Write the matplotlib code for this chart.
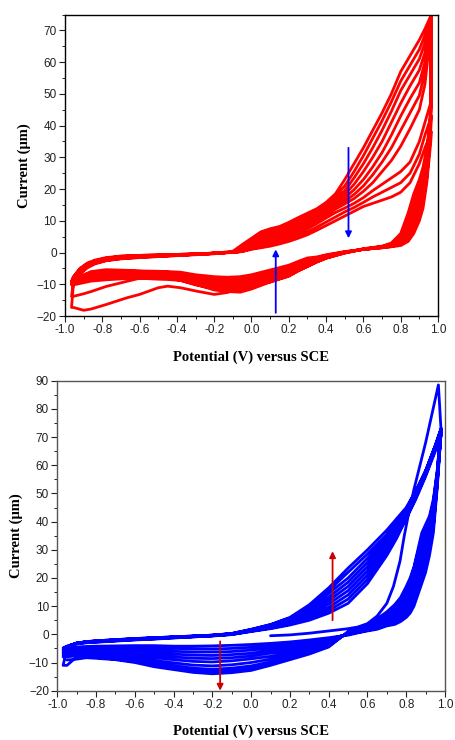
import matplotlib
matplotlib.use('Agg')
import matplotlib.pyplot as plt
from matplotlib.ticker import MultipleLocator, FixedLocator

# ---------------- TOP PANEL (red) ----------------
XA_TOP = [-0.965, -0.955, -0.92, -0.88, -0.84, -0.78, -0.7, -0.6, -0.5, -0.4, -0.3, -0.2, -0.1,
          -0.05, 0.0, 0.05, 0.1, 0.15, 0.2, 0.25, 0.3, 0.35, 0.4, 0.45, 0.5, 0.55, 0.6, 0.65,
          0.7, 0.75, 0.8, 0.85, 0.9, 0.93, 0.965]
TOP_ANODIC = [
    [-9.0, -8.5, -5.5, -3.8, -2.8, -1.8, -1.2, -0.9, -0.7, -0.6, -0.4, -0.2, 0.4, 2.5, 4.5, 6.5, 7.5, 8.2, 9.5, 11.0, 12.4, 13.8, 15.8, 18.5, 23.0, 28.0, 33.0, 38.5, 44.0, 50.0, 57.0, 62.0, 67.0, 70.5, 75.0],
    [-17.3, -10.0, -6.8, -4.8, -3.6, -2.6, -2.0, -1.6, -1.3, -1.0, -0.7, -0.4, 0.2, 1.6, 3.5, 5.5, 7.0, 7.8, 9.0, 10.5, 12.0, 13.5, 15.3, 17.8, 21.0, 25.5, 30.5, 36.0, 41.5, 47.5, 54.0, 59.0, 64.0, 68.5, 75.0],
    [-13.8, -9.5, -6.5, -4.6, -3.4, -2.5, -1.9, -1.5, -1.2, -0.9, -0.6, -0.3, 0.2, 1.1, 2.8, 4.5, 6.2, 7.3, 8.5, 10.0, 11.5, 13.0, 14.8, 17.0, 19.5, 23.5, 28.0, 33.0, 38.5, 44.5, 51.0, 56.0, 61.0, 66.0, 74.5],
    [-10.2, -8.8, -6.2, -4.4, -3.3, -2.4, -1.8, -1.4, -1.1, -0.9, -0.6, -0.3, 0.1, 0.8, 2.3, 3.6, 5.2, 6.6, 7.8, 9.3, 10.8, 12.4, 14.2, 16.3, 18.3, 21.5, 25.5, 30.0, 35.0, 41.0, 47.0, 52.5, 57.5, 63.0, 74.0],
    [-9.8, -8.6, -6.0, -4.2, -3.2, -2.3, -1.7, -1.3, -1.1, -0.8, -0.6, -0.3, 0.1, 0.6, 2.0, 3.0, 4.4, 5.8, 7.0, 8.5, 10.0, 11.7, 13.5, 15.5, 17.2, 19.8, 23.0, 27.0, 31.5, 37.0, 43.0, 48.5, 53.5, 60.0, 73.5],
    [-9.6, -8.4, -5.8, -4.0, -3.0, -2.1, -1.6, -1.2, -1.0, -0.8, -0.5, -0.2, 0.1, 0.5, 1.8, 2.6, 3.7, 5.0, 6.2, 7.6, 9.2, 10.9, 12.7, 14.6, 16.2, 18.3, 21.0, 24.5, 28.5, 33.0, 38.5, 44.0, 49.5, 57.0, 73.0],
    [-9.4, -8.2, -5.6, -3.9, -2.9, -2.0, -1.5, -1.2, -1.0, -0.8, -0.5, -0.2, 0.1, 0.45, 1.6, 2.3, 3.2, 4.3, 5.4, 6.8, 8.3, 10.0, 11.8, 13.7, 15.3, 17.0, 19.3, 22.0, 25.5, 29.0, 33.5, 39.0, 45.0, 53.0, 72.0],
    [-9.3, -8.0, -5.4, -3.7, -2.7, -1.9, -1.4, -1.1, -0.9, -0.7, -0.5, -0.2, 0.1, 0.4, 1.4, 2.0, 2.8, 3.7, 4.7, 6.0, 7.5, 9.1, 10.9, 12.6, 14.0, 15.5, 17.3, 19.5, 21.5, 23.5, 25.5, 28.5, 35.0, 41.0, 48.0],
    [-9.2, -7.8, -5.2, -3.5, -2.6, -1.8, -1.3, -1.0, -0.9, -0.7, -0.5, -0.2, 0.0, 0.35, 1.2, 1.7, 2.4, 3.2, 4.1, 5.2, 6.5, 8.0, 9.6, 11.2, 12.8, 14.2, 15.8, 17.5, 19.0, 20.5, 22.0, 25.0, 31.0, 37.0, 43.0],
    [-9.1, -7.6, -5.0, -3.3, -2.4, -1.6, -1.1, -0.9, -0.8, -0.6, -0.4, -0.2, 0.0, 0.3, 1.0, 1.5, 2.0, 2.7, 3.5, 4.5, 5.6, 7.0, 8.5, 10.0, 11.5, 13.0, 14.5, 15.5, 16.5, 17.5, 19.0, 22.0, 28.0, 33.0, 38.0],
]
XC_TOP = [0.965, 0.96, 0.95, 0.94, 0.92, 0.9, 0.87, 0.84, 0.8, 0.75, 0.7, 0.6, 0.5, 0.4, 0.35, 0.3,
          0.25, 0.2, 0.1, 0.0, -0.06, -0.13, -0.2, -0.3, -0.38, -0.45, -0.5, -0.6, -0.67, -0.78,
          -0.86, -0.9, -0.955]
TOP_CATHODIC = [
    [75, 45, 38, 33, 27, 23, 18.5, 12.5, 6.0, 3.0, 2.0, 1.2, 0.0, -1.8, -3.0, -4.4, -5.8, -7.3, -9.3, -10.5, -11.1, -12.6, -13.2, -12.1, -11.1, -10.6, -11.1, -13.2, -14.3, -16.4, -17.8, -18.2, -17.3],
    [75, 43, 37, 31, 25, 21, 16.5, 11, 5.3, 2.7, 1.9, 1.1, -0.1, -1.7, -2.8, -4.1, -5.5, -6.9, -8.8, -10.2, -11.0, -11.5, -11.4, -10.2, -8.8, -8.0, -7.8, -8.1, -9.1, -10.7, -12.3, -13.0, -13.8],
    [74.5, 42, 36, 30, 24, 19.5, 15, 10, 4.8, 2.5, 1.8, 1.1, -0.2, -1.8, -3.0, -4.4, -5.8, -7.5, -9.3, -11.5, -12.5, -12.3, -11.8, -10.0, -8.8, -8.5, -8.4, -8.1, -8.2, -8.6, -9.0, -9.5, -10.2],
    [74, 41, 35, 29, 22.5, 18, 13.5, 9, 4.4, 2.4, 1.8, 1.1, -0.1, -1.6, -2.7, -4.0, -5.4, -7.0, -8.8, -10.8, -11.8, -11.6, -11.2, -9.6, -8.5, -8.1, -8.0, -7.8, -7.8, -8.1, -8.6, -9.2, -9.8],
    [73.5, 40, 34, 28, 21, 16.5, 12, 8, 4.0, 2.3, 1.7, 1.0, 0.0, -1.5, -2.5, -3.6, -4.9, -6.5, -8.2, -10.1, -11.1, -11.0, -10.6, -9.2, -8.1, -7.7, -7.6, -7.4, -7.4, -7.6, -8.2, -8.9, -9.6],
    [73, 39, 33, 27, 20, 15, 11, 7.2, 3.6, 2.2, 1.7, 1.0, 0.0, -1.3, -2.2, -3.2, -4.5, -6.0, -7.6, -9.4, -10.3, -10.3, -10.0, -8.8, -7.7, -7.3, -7.2, -7.0, -7.0, -7.1, -7.7, -8.5, -9.4],
    [72, 38, 32, 26, 19, 14, 10, 6.4, 3.3, 2.1, 1.6, 1.0, 0.1, -1.2, -2.0, -2.8, -4.0, -5.4, -7.0, -8.7, -9.5, -9.6, -9.4, -8.4, -7.3, -6.9, -6.8, -6.6, -6.5, -6.6, -7.2, -8.0, -9.3],
    [48, 40, 31, 25, 17.5, 13, 9, 5.6, 3.0, 2.0, 1.6, 1.0, 0.1, -1.0, -1.8, -2.5, -3.6, -4.9, -6.5, -8.1, -8.8, -8.9, -8.7, -8.0, -6.9, -6.5, -6.4, -6.2, -6.1, -6.1, -6.8, -7.7, -9.2],
    [43, 37, 30, 23.5, 16, 11.5, 7.5, 4.5, 2.6, 1.9, 1.5, 1.0, 0.2, -0.9, -1.6, -2.1, -3.2, -4.4, -6.0, -7.5, -8.2, -8.3, -8.1, -7.5, -6.5, -6.2, -6.1, -5.9, -5.8, -5.7, -6.4, -7.3, -9.1],
    [38, 34, 28, 22, 14, 10, 6, 3.5, 2.2, 1.8, 1.5, 1.0, 0.3, -0.7, -1.4, -1.7, -2.8, -4.0, -5.5, -7.0, -7.6, -7.8, -7.6, -7.0, -6.2, -6.0, -5.9, -5.8, -5.6, -5.4, -6.0, -7.0, -9.0],
]

# ---------------- BOTTOM PANEL (blue) ----------------
XA_BOT_FIRST = [0.1, 0.2, 0.3, 0.4, 0.5, 0.55, 0.6, 0.65, 0.7, 0.734, 0.768, 0.79, 0.81, 0.84, 0.9, 0.966]
BOT_ANODIC_FIRST = [-0.5, -0.2, 0.4, 1.2, 2.0, 2.6, 3.8, 6.5, 11.0, 17.0, 26.0, 35.0, 42.0, 51.5, 68.0, 88.5]
XA_BOT = [-0.97, -0.95, -0.93, -0.9, -0.85, -0.8, -0.7, -0.6, -0.5, -0.4, -0.3, -0.2, -0.1, 0.0,
          0.1, 0.2, 0.3, 0.4, 0.5, 0.6, 0.7, 0.75, 0.8, 0.85, 0.9, 0.95, 0.98]
BOT_ANODIC = [
    [-4.8, -4.2, -3.8, -3.4, -3.0, -2.8, -2.4, -2.0, -1.7, -1.3, -0.9, -0.6, -0.1, 1.0, 2.0, 3.3, 5.0, 7.5, 11.0, 18.0, 28.0, 34.0, 41.0, 48.0, 56.0, 65.0, 71.0],
    [-5.3, -4.3, -3.8, -3.3, -2.9, -2.7, -2.3, -1.9, -1.6, -1.2, -0.9, -0.5, 0.0, 1.1, 2.2, 3.6, 5.6, 8.5, 12.5, 19.5, 29.0, 35.0, 41.5, 48.5, 56.5, 65.5, 71.5],
    [-5.8, -4.4, -3.8, -3.2, -2.8, -2.6, -2.2, -1.8, -1.5, -1.1, -0.8, -0.5, 0.0, 1.2, 2.4, 4.0, 6.3, 9.6, 14.0, 21.0, 30.5, 36.0, 42.0, 49.0, 57.0, 66.0, 72.0],
    [-6.2, -4.5, -3.8, -3.2, -2.8, -2.5, -2.1, -1.7, -1.4, -1.1, -0.8, -0.4, 0.1, 1.3, 2.6, 4.4, 7.0, 10.8, 15.5, 22.5, 31.5, 37.0, 42.5, 49.5, 57.0, 66.0, 72.0],
    [-6.6, -4.6, -3.8, -3.1, -2.7, -2.5, -2.1, -1.7, -1.4, -1.0, -0.7, -0.4, 0.1, 1.4, 2.8, 4.8, 7.7, 12.0, 17.0, 24.0, 32.5, 38.0, 43.0, 50.0, 57.5, 66.5, 72.5],
    [-7.0, -4.7, -3.8, -3.1, -2.7, -2.4, -2.0, -1.6, -1.3, -1.0, -0.7, -0.4, 0.2, 1.5, 3.0, 5.2, 8.4, 13.2, 18.5, 25.5, 33.5, 39.0, 43.5, 50.0, 57.5, 66.5, 72.5],
    [-7.5, -4.8, -3.9, -3.1, -2.7, -2.4, -2.0, -1.6, -1.3, -1.0, -0.7, -0.3, 0.2, 1.6, 3.2, 5.5, 9.2, 14.5, 20.0, 27.0, 34.5, 39.5, 44.0, 50.5, 58.0, 67.0, 73.0],
    [-8.0, -4.9, -3.9, -3.1, -2.6, -2.3, -1.9, -1.5, -1.2, -0.9, -0.6, -0.3, 0.3, 1.7, 3.4, 5.8, 9.9, 15.5, 22.0, 28.5, 35.5, 40.5, 44.5, 51.0, 58.0, 67.0, 73.0],
    [-11.0, -5.0, -4.0, -3.1, -2.6, -2.3, -1.9, -1.5, -1.2, -0.9, -0.6, -0.3, 0.3, 1.8, 3.5, 6.0, 10.5, 16.5, 23.5, 30.0, 37.0, 41.0, 45.0, 51.0, 58.0, 67.0, 73.0],
]
XC_BOT = [0.98, 0.97, 0.96, 0.94, 0.92, 0.9, 0.88, 0.86, 0.84, 0.82, 0.8, 0.77, 0.74, 0.7, 0.65,
          0.6, 0.55, 0.5, 0.4, 0.3, 0.2, 0.1, 0.0, -0.1, -0.2, -0.3, -0.4, -0.5, -0.6, -0.7,
          -0.8, -0.85, -0.9, -0.95]
BOT_CATHODIC = [
    [72, 62, 52, 36, 28, 22, 18, 14, 10, 7.5, 6.0, 4.5, 3.5, 3.0, 1.8, 1.2, 0.5, -0.3, -1.2, -2.0, -2.7, -3.2, -3.6, -3.9, -4.1, -4.2, -4.2, -4.0, -4.0, -4.1, -4.2, -4.3, -4.5, -4.8],
    [72, 63, 53, 38, 30, 24, 20, 16, 11.5, 8.5, 6.8, 5.0, 4.0, 3.3, 2.1, 1.4, 0.7, 0.0, -1.6, -2.6, -3.4, -4.0, -4.6, -5.0, -5.2, -5.2, -5.0, -4.8, -4.7, -4.7, -4.8, -4.9, -5.0, -5.3],
    [72, 63, 54, 40, 32, 26, 22, 18, 13, 9.5, 7.6, 5.8, 4.6, 3.7, 2.5, 1.7, 0.9, 0.2, -2.0, -3.2, -4.1, -4.8, -5.6, -6.1, -6.3, -6.3, -6.0, -5.6, -5.3, -5.2, -5.3, -5.4, -5.5, -5.8],
    [72, 63, 55, 41, 34, 28, 24, 20, 15, 11, 8.8, 6.7, 5.3, 4.2, 2.9, 2.0, 1.1, 0.3, -2.4, -3.8, -4.9, -5.7, -6.7, -7.2, -7.5, -7.4, -7.0, -6.5, -6.0, -5.8, -5.8, -5.9, -6.0, -6.2],
    [72, 64, 55, 42, 35, 30, 26, 22, 17, 12.5, 10, 7.6, 6.0, 4.8, 3.3, 2.3, 1.3, 0.4, -2.8, -4.4, -5.7, -6.7, -7.7, -8.3, -8.6, -8.5, -8.0, -7.4, -6.8, -6.4, -6.3, -6.3, -6.4, -6.6],
    [72, 64, 56, 44, 37, 32, 28, 24, 19, 14, 11.5, 8.6, 6.8, 5.4, 3.7, 2.6, 1.5, 0.5, -3.2, -5.0, -6.5, -7.8, -8.7, -9.4, -9.8, -9.6, -9.0, -8.3, -7.6, -7.1, -6.8, -6.7, -6.8, -7.0],
    [72, 65, 57, 45, 39, 34, 31, 26, 21, 16, 13, 9.8, 7.8, 6.1, 4.2, 2.9, 1.7, 0.6, -3.6, -5.6, -7.3, -8.8, -10.0, -10.8, -11.2, -10.9, -10.1, -9.3, -8.4, -7.8, -7.4, -7.2, -7.3, -7.5],
    [72, 65, 57, 46, 40, 36, 33, 28, 22.5, 17.5, 14.5, 11, 8.8, 6.8, 4.7, 3.2, 1.8, 0.7, -3.9, -6.2, -8.0, -9.8, -11.2, -12.0, -12.4, -12.0, -11.1, -10.2, -9.1, -8.4, -7.9, -7.6, -7.6, -8.0],
    [72, 66, 58, 47, 41, 37.5, 34.5, 29, 23.5, 19, 16, 12, 9.6, 7.4, 5.1, 3.4, 1.9, 0.8, -4.2, -6.6, -8.5, -10.4, -12.0, -12.9, -13.3, -12.9, -12.0, -11.0, -9.7, -8.8, -8.2, -7.9, -8.0, -11.0],
    [72, 66, 58, 48, 42, 39, 36, 30, 24, 20, 17, 13, 10.5, 8.0, 5.5, 3.5, 2.0, 1.0, -4.5, -7.0, -9.0, -11.0, -12.8, -13.6, -14.0, -13.5, -12.5, -11.5, -10.0, -9.0, -8.5, -8.3, -8.8, -9.1],
]

# ---------------- Arrows (data coords) ----------------
TOP_ARROWS = [((0.52, 33), (0.52, 4.5)), ((0.13, -19), (0.13, 1.0))]
BOT_ARROWS = [((0.42, 5), (0.42, 29.5)), ((-0.16, -2.5), (-0.16, -20))]

X_TICKS = [-1.0, -0.8, -0.6, -0.4, -0.2, 0.0, 0.2, 0.4, 0.6, 0.8, 1.0]
X_TICKLABELS = ['-1.0', '-0.8', '-0.6', '-0.4', '-0.2', '0.0', '0.2', '0.4', '0.6', '0.8', '1.0']


def build_path(segments):
    xs, ys = [], []
    for sx, sy in segments:
        assert len(sx) == len(sy), (len(sx), len(sy))
        xs.extend(sx)
        ys.extend(sy)
    return xs, ys


top_segments = []
for a, c in zip(TOP_ANODIC, TOP_CATHODIC):
    top_segments.append((XA_TOP, a))
    top_segments.append((XC_TOP, c))

bot_segments = [(XA_BOT_FIRST, BOT_ANODIC_FIRST), (XC_BOT, BOT_CATHODIC[0])]
for a, c in zip(BOT_ANODIC, BOT_CATHODIC[1:]):
    bot_segments.append((XA_BOT, a))
    bot_segments.append((XC_BOT, c))

fig = plt.figure(figsize=(4.55, 7.4), dpi=100)
ax1 = fig.add_axes([65 / 455, 1 - 316 / 740, 373 / 455, 301.5 / 740])
ax2 = fig.add_axes([57.3 / 455, 1 - 690.7 / 740, 387.7 / 455, 310 / 740])

tick_font = dict(family='Liberation Sans', size=8.5)
label_font = dict(family='Liberation Serif', size=10.5, weight='bold')


def style(ax, ylo, yhi, ymajor, spine_color):
    ax.set_xlim(-1.0, 1.0)
    ax.set_ylim(ylo, yhi)
    ax.xaxis.set_major_locator(FixedLocator(X_TICKS))
    ax.set_xticklabels(X_TICKLABELS, **tick_font)
    ax.xaxis.set_minor_locator(MultipleLocator(0.1))
    ax.yaxis.set_major_locator(MultipleLocator(ymajor))
    ax.yaxis.set_minor_locator(MultipleLocator(ymajor / 2))
    for lab in ax.get_yticklabels():
        lab.set_fontfamily('Liberation Sans')
        lab.set_fontsize(8.5)
    ax.tick_params(which='major', direction='out', length=4, width=0.8, colors='#222222',
                   top=False, right=False, pad=2)
    ax.tick_params(which='minor', direction='out', length=2.5, width=0.7, colors='#222222',
                   top=False, right=False)
    for s in ax.spines.values():
        s.set_color(spine_color)
        s.set_linewidth(1.0)
    ax.set_xlabel('Potential (V) versus SCE', labelpad=10, **label_font)
    ax.set_ylabel('Current (μm)', labelpad=4, **label_font)


x1, y1 = build_path(top_segments)
ax1.plot(x1, y1, color='#ff0000', lw=2.0, solid_joinstyle='round', solid_capstyle='round')
style(ax1, -20, 75, 10, '#000000')
for (xs, ys), (xe, ye) in TOP_ARROWS:
    ax1.annotate('', xy=(xe, ye), xytext=(xs, ys),
                 arrowprops=dict(arrowstyle='-|>', color='#0000ff', lw=1.3,
                                 mutation_scale=9, shrinkA=0, shrinkB=0))

x2, y2 = build_path(bot_segments)
ax2.plot(x2, y2, color='#0000ff', lw=2.0, solid_joinstyle='round', solid_capstyle='round')
style(ax2, -20, 90, 10, '#555555')
for (xs, ys), (xe, ye) in BOT_ARROWS:
    ax2.annotate('', xy=(xe, ye), xytext=(xs, ys),
                 arrowprops=dict(arrowstyle='-|>', color='#cc0000', lw=1.3,
                                 mutation_scale=9, shrinkA=0, shrinkB=0))

fig.savefig('out.png', dpi=100)
